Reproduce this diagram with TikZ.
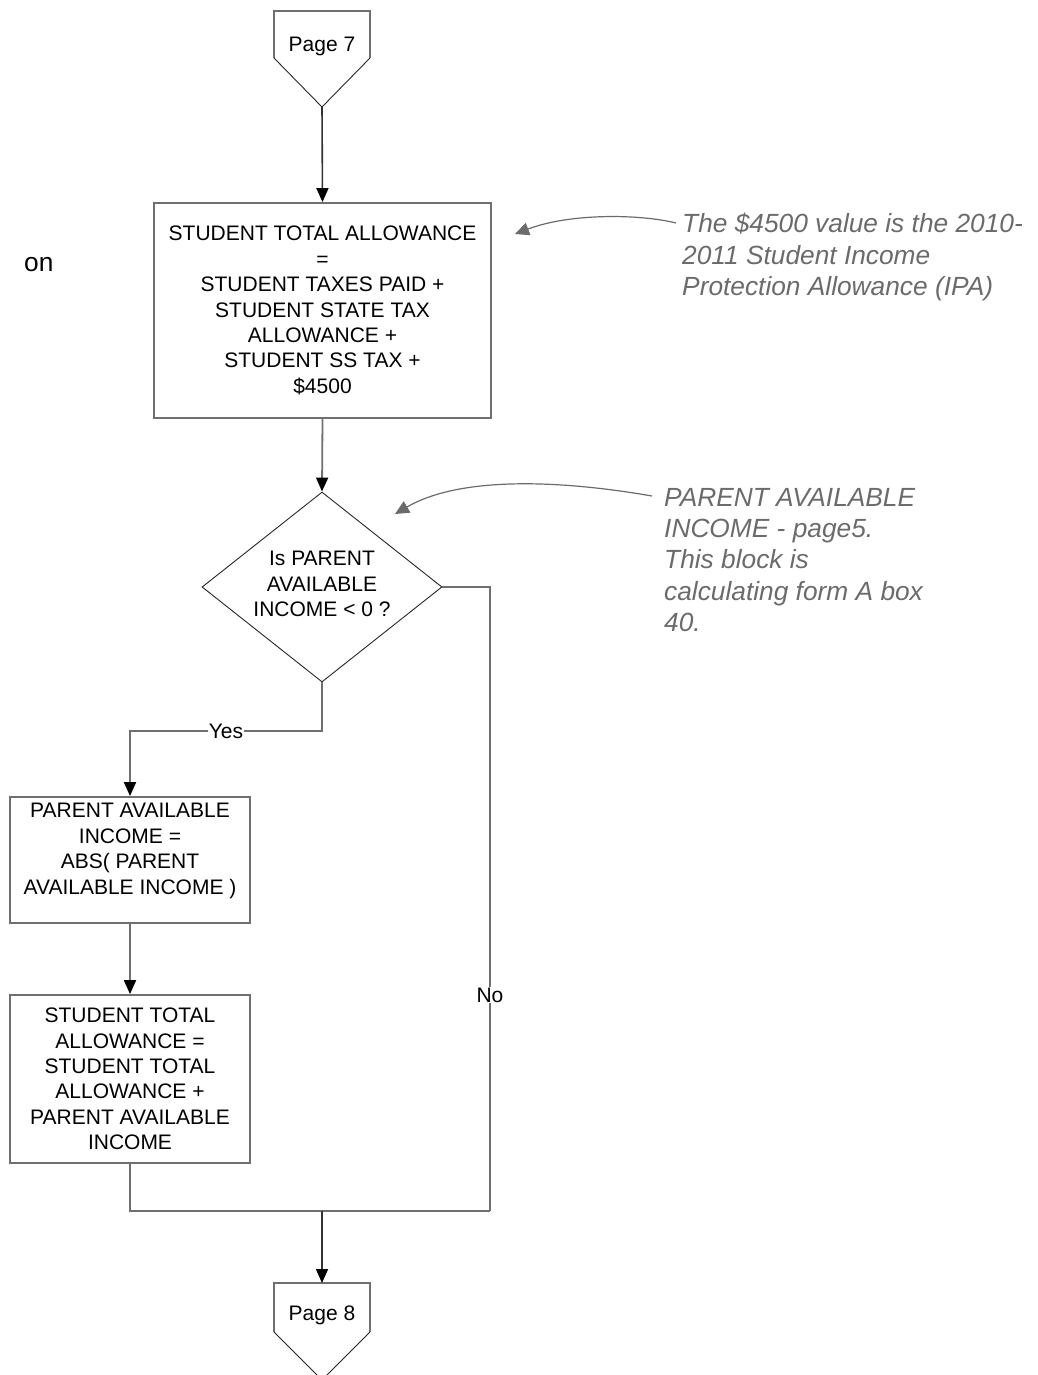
\documentclass[tikz,border=0pt]{standalone}
\usepackage{fontspec}
\setmainfont{Liberation Sans}
\usetikzlibrary{arrows.meta,shapes.geometric}
\definecolor{linegray}{HTML}{707070}
\definecolor{annogray}{HTML}{6B6B6B}
\newcommand{\boxfont}{\fontsize{21}{25.4}\selectfont}
\newcommand{\annofont}{\fontsize{26.3}{31.3}\selectfont\itshape}
\newcommand{\bigfont}{\fontsize{26.3}{31.3}\selectfont}
\begin{document}
\begin{tikzpicture}[x=1pt,y=-1pt,
  box/.style={draw=linegray, line width=1.8pt, align=center, font=\boxfont, inner sep=0pt},
  txt/.style={align=center, font=\boxfont, inner sep=0pt},
  flowline/.style={draw=linegray, line width=1.8pt},
  flowarrow/.style={flowline, -{Triangle[length=14pt,width=12pt,color=black]}},
  darkarrow/.style={draw=black!80, line width=1.6pt, -{Triangle[length=14pt,width=12pt,color=black]}},
  thinedge/.style={draw=black!85, line width=0.9pt},
  lbl/.style={fill=white, inner sep=1pt, font=\boxfont},
  anno/.style={align=left, font=\annofont, text=annogray, inner sep=0pt},
  annoarrow/.style={draw=annogray, line width=1.2pt, -{Triangle[length=14pt,width=13pt]}},
]
\useasboundingbox (0,0) rectangle (1037,1375);

% cut-off text at left
\node[font=\bigfont, anchor=base west, inner sep=0pt] (on) at (24,271) {on};

% Page 7 off-page connector
\coordinate (p7tip) at (322,107);
\draw[linegray, line width=1.8pt] (274,58) -- (274,11) -- (370,11) -- (370,58);
\draw[thinedge] (274,58) -- (p7tip) -- (370,58);
\node[txt] (p7) at (322,46) {Page 7};

% Box 1
\node[box, minimum width=337pt, minimum height=215pt] (b1) at (322.5,310.5)
  {STUDENT TOTAL ALLOWANCE\\=\\STUDENT TAXES PAID +\\STUDENT STATE TAX\\ALLOWANCE +\\STUDENT SS TAX +\\\$4500};

% Decision
\node[diamond, thinedge, minimum width=240pt, minimum height=190pt, inner sep=0pt] (d) at (322,587) {};
\node[txt] (dt) at (322,584) {Is PARENT\\AVAILABLE\\INCOME < 0 ?};

% Box 2
\node[box, minimum width=240pt, minimum height=126pt] (b2) at (130,860) {};
\node[txt] (b2t) at (130,851) {PARENT AVAILABLE\\INCOME =\\ABS( PARENT\\AVAILABLE INCOME )};

% Box 3
\node[box, minimum width=240pt, minimum height=168pt] (b3) at (130,1079)
  {STUDENT TOTAL\\ALLOWANCE =\\STUDENT TOTAL\\ALLOWANCE +\\PARENT AVAILABLE\\INCOME};

% Page 8 off-page connector
\coordinate (p8top) at (322,1283);
\draw[linegray, line width=1.8pt] (274,1332) -- (274,1283) -- (370,1283) -- (370,1332);
\draw[thinedge] (274,1332) -- (322,1380) -- (370,1332);
\node[txt] (p8) at (322,1315) {Page 8};

% Connectors
\coordinate (yk) at (322,731);
\coordinate (m1) at (130,1211);
\coordinate (m2) at (490,1211);
\coordinate (mc) at (322,1211);
\draw[darkarrow] (p7tip) -- (b1.north);
\draw[flowarrow] (b1.south) -- (d.north);
\draw[flowarrow] (d.south) -- (yk) -| node[lbl,pos=0.25]{Yes} (b2.north);
\draw[flowarrow] (b2.south) -- (b3.north);
\draw[flowline] (d.east) -| node[lbl,pos=0.827]{No} (m2);
\draw[flowline] (b3.south) -- (m1) -- (m2);
\draw[darkarrow] (mc) -- (p8top);

% Annotations
\node[anno, anchor=west] (a1) at (682,257)
  {The \$4500 value is the 2010-\\2011 Student Income\\Protection Allowance (IPA)};
\coordinate (a1s) at (676,223);
\coordinate (a1e) at (515,234);
\draw[annoarrow] (a1s) .. controls (640,214) and (570,213) .. (a1e);

\node[anno, anchor=west] (a2) at (664,560)
  {PARENT AVAILABLE\\INCOME - page5.\\This block is\\calculating form A box\\40.};
\coordinate (a2s) at (652,496);
\coordinate (a2e) at (395,514);
\draw[annoarrow] (a2s) .. controls (560,480) and (460,476) .. (a2e);
\end{tikzpicture}
\end{document}
